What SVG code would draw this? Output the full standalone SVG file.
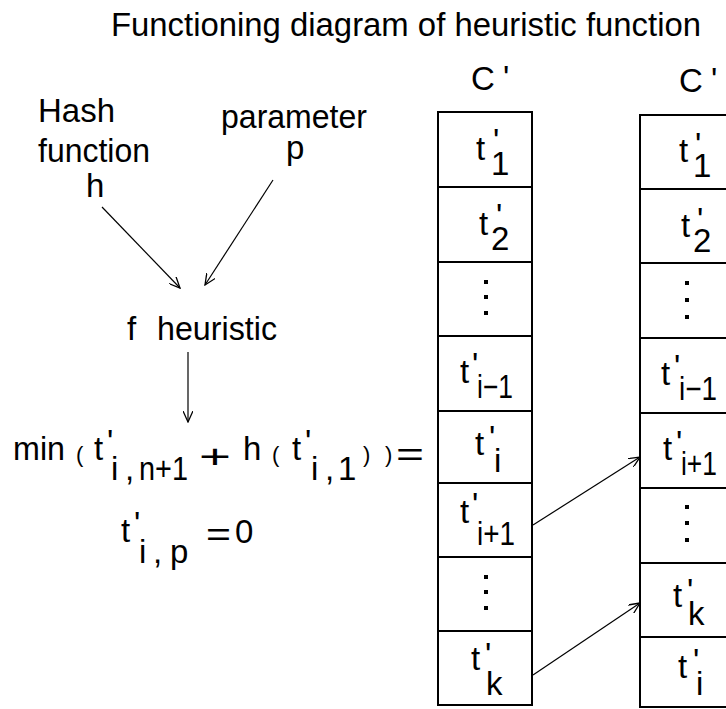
<svg xmlns="http://www.w3.org/2000/svg" width="726" height="709" viewBox="0 0 726 709">
<style>
.t{font-family:"Liberation Sans",Arial,sans-serif;font-size:33px;fill:#000}
.c{font-family:"Liberation Sans",Arial,sans-serif;font-size:33px;fill:#000}
.p{font-size:22px}
.box{fill:#fff;stroke:#000;stroke-width:2}
.sep{stroke:#000;stroke-width:2}
.ln{stroke:#000;stroke-width:1.2;fill:none}
.dot{fill:#000}
</style>
<defs>
<marker id="ah" viewBox="0 0 12 10" refX="11" refY="5" markerWidth="12" markerHeight="10" markerUnits="userSpaceOnUse" orient="auto">
<path d="M0,0 L11,5 L0,10" fill="none" stroke="#000" stroke-width="1.3"/>
</marker>
</defs>
<rect width="726" height="709" fill="#fff"/>
<g id="title"><text class="t" x="111" y="36" font-size="32" textLength="590" lengthAdjust="spacingAndGlyphs">Functioning diagram of heuristic function</text></g>

<g id="label-c1"><text class="t" x="471" y="90">C<tspan x="503" y="89">'</tspan></text></g>
<g id="label-c2"><text class="t" x="679" y="92">C<tspan x="711" y="91">'</tspan></text></g>

<g id="hash"><text class="t" x="38" y="122" textLength="77" lengthAdjust="spacingAndGlyphs">Hash</text><text class="t" x="38" y="162" textLength="112" lengthAdjust="spacingAndGlyphs">function</text><text class="t" x="86" y="197">h</text></g>
<g id="param"><text class="t" x="221" y="128" textLength="146" lengthAdjust="spacingAndGlyphs">parameter</text><text class="t" x="286" y="159">p</text></g>
<g id="heur"><text class="t" x="127" y="340">f<tspan x="157" y="340" textLength="120" lengthAdjust="spacingAndGlyphs">heuristic</tspan></text></g>

<g id="formula">
<text class="t" x="13" y="460"><tspan textLength="52" lengthAdjust="spacingAndGlyphs">min</tspan><tspan class="p" x="76" y="462">(</tspan><tspan x="94" y="460">t</tspan><tspan x="107" y="453">'</tspan><tspan x="111" y="480">i</tspan><tspan x="125" y="480">,</tspan><tspan x="139" y="480" textLength="49" lengthAdjust="spacingAndGlyphs">n+1</tspan><tspan x="243" y="460">h</tspan><tspan class="p" x="272" y="462">(</tspan><tspan x="292" y="460">t</tspan><tspan x="305" y="453">'</tspan><tspan x="311" y="480">i</tspan><tspan x="325" y="480">,</tspan><tspan x="338" y="480">1</tspan><tspan class="p" x="363" y="462">)</tspan><tspan class="p" x="385" y="462">)</tspan></text>
<text class="t" x="199" y="468" font-size="44" textLength="32" lengthAdjust="spacingAndGlyphs">+</text>
<text class="t" x="396" y="466" font-size="36" textLength="28" lengthAdjust="spacingAndGlyphs">=</text>
<text class="t" x="121" y="542">t<tspan x="134" y="535">'</tspan><tspan x="139" y="563">i</tspan><tspan x="153" y="563">,</tspan><tspan x="170" y="563">p</tspan></text>
<text class="t" x="206" y="546" font-size="34" textLength="25" lengthAdjust="spacingAndGlyphs">=</text>
<text class="t" x="235" y="543">0</text>
</g>

<g id="col1">
<rect class="box" x="438" y="112" width="94" height="593"/>
<line class="sep" x1="438" y1="187" x2="532" y2="187"/>
<line class="sep" x1="438" y1="262" x2="532" y2="262"/>
<line class="sep" x1="438" y1="336" x2="532" y2="336"/>
<line class="sep" x1="438" y1="411" x2="532" y2="411"/>
<line class="sep" x1="438" y1="483" x2="532" y2="483"/>
<line class="sep" x1="438" y1="557" x2="532" y2="557"/>
<line class="sep" x1="438" y1="631" x2="532" y2="631"/>
<text class="c" x="476" y="160">t<tspan x="493" y="152">'</tspan><tspan x="491" y="175">1</tspan></text>
<text class="c" x="479" y="235">t<tspan x="496" y="227">'</tspan><tspan x="491" y="250">2</tspan></text>
<rect class="dot" x="484" y="280" width="4" height="4"/><rect class="dot" x="484" y="295" width="4" height="4"/><rect class="dot" x="484" y="311" width="4" height="4"/>
<text class="c" x="460" y="383">t<tspan x="472" y="376">'</tspan><tspan x="477" y="398" textLength="36" lengthAdjust="spacingAndGlyphs">i−1</tspan></text>
<text class="c" x="475" y="455">t<tspan x="489" y="449">'</tspan><tspan x="494" y="472">i</tspan></text>
<text class="c" x="460" y="523">t<tspan x="472" y="516">'</tspan><tspan x="477" y="545" textLength="38" lengthAdjust="spacingAndGlyphs">i+1</tspan></text>
<rect class="dot" x="484" y="575" width="4" height="4"/><rect class="dot" x="484" y="590" width="4" height="4"/><rect class="dot" x="484" y="606" width="4" height="4"/>
<text class="c" x="471" y="670">t<tspan x="485" y="666">'</tspan><tspan x="486" y="695">k</tspan></text>
</g>

<g id="col2">
<rect class="box" x="640" y="115" width="94" height="592"/>
<line class="sep" x1="640" y1="189" x2="726" y2="189"/>
<line class="sep" x1="640" y1="263" x2="726" y2="263"/>
<line class="sep" x1="640" y1="338" x2="726" y2="338"/>
<line class="sep" x1="640" y1="413" x2="726" y2="413"/>
<line class="sep" x1="640" y1="488" x2="726" y2="488"/>
<line class="sep" x1="640" y1="563" x2="726" y2="563"/>
<line class="sep" x1="640" y1="637" x2="726" y2="637"/>
<text class="c" x="679" y="162">t<tspan x="695" y="156">'</tspan><tspan x="693" y="177">1</tspan></text>
<text class="c" x="681" y="237">t<tspan x="697" y="231">'</tspan><tspan x="693" y="252">2</tspan></text>
<rect class="dot" x="685" y="281" width="4" height="4"/><rect class="dot" x="685" y="298" width="4" height="4"/><rect class="dot" x="685" y="315" width="4" height="4"/>
<text class="c" x="661" y="385">t<tspan x="674" y="378">'</tspan><tspan x="679" y="400" textLength="38" lengthAdjust="spacingAndGlyphs">i−1</tspan></text>
<text class="c" x="663" y="460">t<tspan x="676" y="454">'</tspan><tspan x="681" y="475" textLength="36" lengthAdjust="spacingAndGlyphs">i+1</tspan></text>
<rect class="dot" x="685" y="505" width="4" height="4"/><rect class="dot" x="685" y="521" width="4" height="4"/><rect class="dot" x="685" y="538" width="4" height="4"/>
<text class="c" x="673" y="607">t<tspan x="687" y="602">'</tspan><tspan x="688" y="625">k</tspan></text>
<text class="c" x="678" y="678">t<tspan x="693" y="672">'</tspan><tspan x="696" y="695">i</tspan></text>
</g>

<g id="connectors">
<line class="ln" x1="102" y1="207" x2="180" y2="288" marker-end="url(#ah)"/>
<line class="ln" x1="273" y1="180" x2="205" y2="285" marker-end="url(#ah)"/>
<line class="ln" x1="188" y1="352" x2="188" y2="422" marker-end="url(#ah)"/>
<line class="ln" x1="533" y1="525" x2="640" y2="457" marker-end="url(#ah)"/>
<line class="ln" x1="533" y1="675" x2="640" y2="603" marker-end="url(#ah)"/>
</g>
</svg>
